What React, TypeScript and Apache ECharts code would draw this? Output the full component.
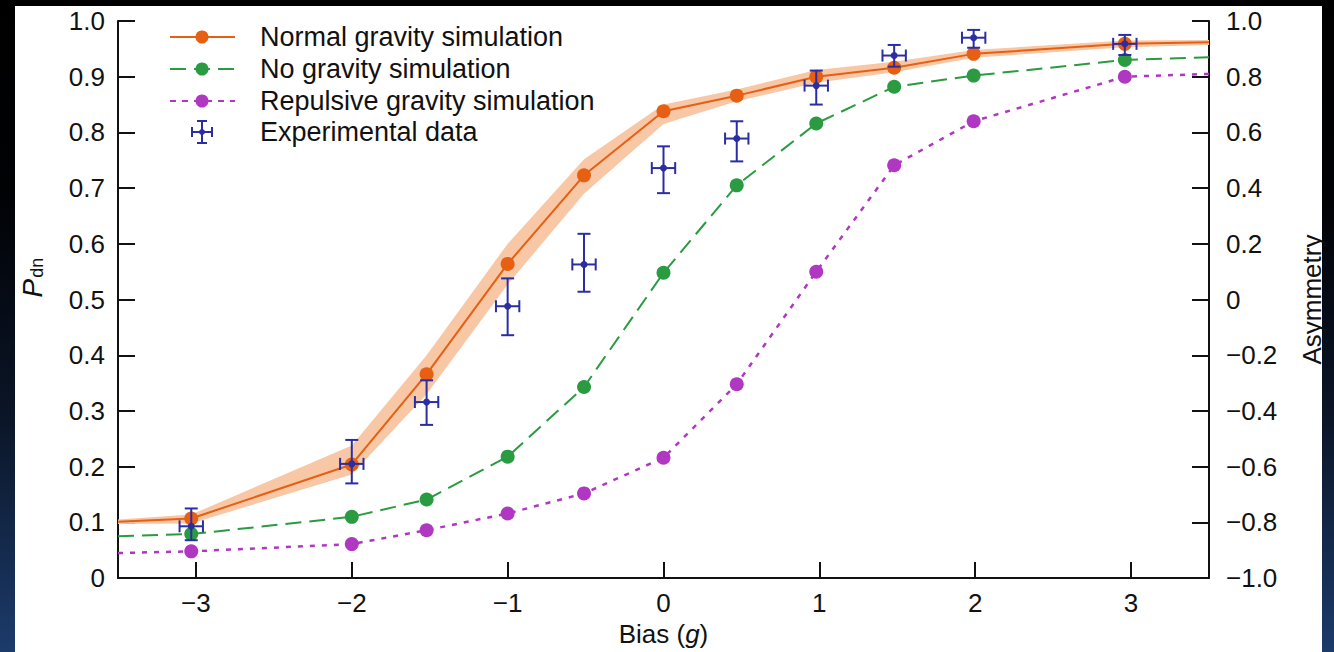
import React, { useEffect, useRef } from "react";
import * as echarts from "echarts";

// ---- data ----
const xRange = [-3.5, 3.5];
const xTicks = [-3, -2, -1, 0, 1, 2, 3];
const biasX = [-3.03, -2.0, -1.52, -1.0, -0.51, 0.0, 0.47, 0.98, 1.48, 1.99, 2.96];

const normalY = [0.107, 0.204, 0.366, 0.564, 0.723, 0.838, 0.866, 0.9, 0.916, 0.941, 0.959];
const normalEdgeY = [0.101, 0.962];
const normalUpper = [0.105, 0.114, 0.238, 0.4, 0.6, 0.752, 0.85, 0.877, 0.912, 0.927, 0.948, 0.965, 0.966];
const normalLower = [0.097, 0.098, 0.186, 0.33, 0.527, 0.69, 0.815, 0.856, 0.889, 0.908, 0.934, 0.953, 0.957];

const noGravityY = [0.079, 0.11, 0.141, 0.218, 0.343, 0.548, 0.705, 0.816, 0.882, 0.902, 0.93];
const noGravityEdgeY = [0.075, 0.935];

const repulsiveY = [0.048, 0.061, 0.086, 0.116, 0.152, 0.216, 0.348, 0.55, 0.741, 0.82, 0.9];
const repulsiveEdgeY = [0.045, 0.905];

const expY = [0.093, 0.205, 0.316, 0.488, 0.563, 0.736, 0.789, 0.884, 0.938, 0.97, 0.959];
const expLow = [0.068, 0.17, 0.275, 0.436, 0.514, 0.691, 0.748, 0.85, 0.918, 0.952, 0.939];
const expHigh = [0.125, 0.248, 0.355, 0.538, 0.618, 0.775, 0.82, 0.911, 0.957, 0.984, 0.975];
const expXErr = [0.075, 0.075, 0.075, 0.075, 0.075, 0.075, 0.075, 0.075, 0.075, 0.075, 0.075];

const seriesNames = [
  "Normal gravity simulation",
  "No gravity simulation",
  "Repulsive gravity simulation",
  "Experimental data",
];

// ---- styles ----
const ORANGE = "#e65f12";
const BAND = "#f7c7a6";
const GREEN = "#2a9b40";
const PURPLE = "#b037c2";
const BLUE = "#2b2ea3";
const INK = "#111111";
const FONT = "'Liberation Sans', Arial, Helvetica, sans-serif";
const FS = 26;

const withEdges = (ys: number[], edges: number[]) => [
  { value: [xRange[0], edges[0]], symbol: "none" },
  ...biasX.map((x, i) => [x, ys[i]]),
  { value: [xRange[1], edges[1]], symbol: "none" },
];

const bandX = [xRange[0], ...biasX, xRange[1]];

const leftFmt = (v: number) => (Math.abs(v) < 1e-9 ? "0" : v.toFixed(1));
const rightFmt = (v: number) =>
  Math.abs(v) < 1e-9 ? "0" : v < 0 ? "\u2212" + Math.abs(v).toFixed(1) : v.toFixed(1);
const xFmt = (v: number) => (v < 0 ? "\u2212" + Math.abs(v) : String(v));

const legendRows = [37, 69, 101, 132];

function buildLegend() {
  const children: any[] = [];
  const x0 = 170;
  const x1 = 235;
  const cx = 202;
  const tx = 260;
  const lineStyles = [
    { stroke: ORANGE, lineWidth: 2 },
    { stroke: GREEN, lineWidth: 2, lineDash: [16, 8] },
    { stroke: PURPLE, lineWidth: 2, lineDash: [6, 6] },
  ];
  const colors = [ORANGE, GREEN, PURPLE];
  for (let i = 0; i < 3; i++) {
    const y = legendRows[i];
    children.push({ type: "line", shape: { x1: x0, y1: y, x2: x1, y2: y }, style: lineStyles[i] });
    children.push({ type: "circle", shape: { cx, cy: y, r: 6.5 }, style: { fill: colors[i] } });
  }
  const y = legendRows[3];
  const st = { stroke: BLUE, lineWidth: 2 };
  children.push({ type: "line", shape: { x1: cx, y1: y - 11, x2: cx, y2: y + 11 }, style: st });
  children.push({ type: "line", shape: { x1: cx - 5, y1: y - 11, x2: cx + 5, y2: y - 11 }, style: st });
  children.push({ type: "line", shape: { x1: cx - 5, y1: y + 11, x2: cx + 5, y2: y + 11 }, style: st });
  children.push({ type: "line", shape: { x1: cx - 10, y1: y, x2: cx + 10, y2: y }, style: st });
  children.push({ type: "line", shape: { x1: cx - 10, y1: y - 5, x2: cx - 10, y2: y + 5 }, style: st });
  children.push({ type: "line", shape: { x1: cx + 10, y1: y - 5, x2: cx + 10, y2: y + 5 }, style: st });
  children.push({ type: "circle", shape: { cx, cy: y, r: 3 }, style: { fill: BLUE } });
  seriesNames.forEach((name, i) => {
    children.push({
      type: "text",
      x: tx,
      y: legendRows[i],
      style: { text: name, fontSize: 27, fontFamily: FONT, fill: INK, verticalAlign: "middle", align: "left" },
    });
  });
  return children;
}

export default function App() {
  const ref = useRef<HTMLDivElement>(null);
  useEffect(() => {
    const chart = echarts.init(ref.current!, null, { renderer: "svg" });
    const axisLineStyle = { color: INK, width: 2 };
    const option: any = {
      animation: false,
      backgroundColor: "transparent",
      grid: { left: 118, right: 125, top: 21, bottom: 71, containLabel: false },
      xAxis: {
        type: "value",
        min: xRange[0],
        max: xRange[1],
        name: "{n|Bias (}{i|g}{n|)}",
        nameLocation: "middle",
        nameGap: 42,
        nameTextStyle: {
          rich: {
            n: { fontSize: FS, fontFamily: FONT, color: INK },
            i: { fontSize: FS, fontFamily: FONT, color: INK, fontStyle: "italic" },
          },
        },
        axisLine: { show: true, onZero: false, lineStyle: axisLineStyle },
        axisTick: { show: true, inside: true, length: 16, lineStyle: axisLineStyle, customValues: xTicks },
        axisLabel: { fontSize: FS, fontFamily: FONT, color: INK, margin: 12, formatter: xFmt, customValues: xTicks },
        splitLine: { show: false },
      },
      yAxis: [
        {
          type: "value",
          position: "left",
          min: 0,
          max: 1,
          interval: 0.1,
          name: "{i|P}{s|dn}",
          nameLocation: "middle",
          nameGap: 72,
          nameTextStyle: {
            padding: [0, 0, 0, 44],
            rich: {
              i: { fontSize: 28, fontFamily: FONT, color: INK, fontStyle: "italic", lineHeight: 28, verticalAlign: "top" },
              s: { fontSize: 18, fontFamily: FONT, color: INK, lineHeight: 18, verticalAlign: "bottom", padding: [13, 0, 0, 1] },
            },
          },
          axisLine: { show: true, onZero: false, lineStyle: axisLineStyle },
          axisTick: { show: true, inside: true, length: 17, lineStyle: axisLineStyle },
          axisLabel: { fontSize: FS, fontFamily: FONT, color: INK, margin: 13, formatter: leftFmt },
          splitLine: { show: false },
        },
        {
          type: "value",
          position: "right",
          min: -1,
          max: 1,
          interval: 0.2,
          name: "Asymmetry",
          nameLocation: "middle",
          nameGap: 90,
          nameTextStyle: { fontSize: FS, fontFamily: FONT, color: INK },
          axisLine: { show: true, onZero: false, lineStyle: axisLineStyle },
          axisTick: { show: true, inside: true, length: 17, lineStyle: axisLineStyle },
          axisLabel: { fontSize: FS, fontFamily: FONT, color: INK, margin: 17, formatter: rightFmt },
          splitLine: { show: false },
        },
      ],
      graphic: buildLegend(),
      series: [
        {
          type: "custom",
          name: "Normal gravity band",
          z: 1,
          silent: true,
          data: bandX.map((x, i) => [x, normalLower[i], normalUpper[i]]),
          encode: { x: 0, y: [1, 2] },
          renderItem: (params: any, api: any) => {
            if (params.dataIndex !== 0) return null;
            const up = bandX.map((x, i) => api.coord([x, normalUpper[i]]));
            const lo = bandX.map((x, i) => api.coord([x, normalLower[i]])).reverse();
            return { type: "polygon", shape: { points: up.concat(lo) }, style: { fill: BAND } };
          },
        },
        {
          type: "line",
          name: seriesNames[0],
          z: 3,
          data: withEdges(normalY, normalEdgeY),
          symbol: "circle",
          symbolSize: 14,
          showAllSymbol: true,
          itemStyle: { color: ORANGE },
          lineStyle: { color: ORANGE, width: 2 },
        },
        {
          type: "line",
          name: seriesNames[1],
          z: 3,
          data: withEdges(noGravityY, noGravityEdgeY),
          symbol: "circle",
          symbolSize: 14,
          showAllSymbol: true,
          itemStyle: { color: GREEN },
          lineStyle: { color: GREEN, width: 2, type: [16, 8] },
        },
        {
          type: "line",
          name: seriesNames[2],
          z: 3,
          data: withEdges(repulsiveY, repulsiveEdgeY),
          symbol: "circle",
          symbolSize: 14,
          showAllSymbol: true,
          itemStyle: { color: PURPLE },
          lineStyle: { color: PURPLE, width: 2.5, type: [5, 7] },
        },
        {
          type: "custom",
          name: seriesNames[3],
          z: 5,
          data: biasX.map((x, i) => [x, expY[i], expLow[i], expHigh[i], expXErr[i]]),
          encode: { x: 0, y: [1, 2, 3] },
          renderItem: (params: any, api: any) => {
            const x = api.value(0);
            const y = api.value(1);
            const lo = api.value(2);
            const hi = api.value(3);
            const xe = api.value(4);
            const c = api.coord([x, y]);
            const top = api.coord([x, hi]);
            const bot = api.coord([x, lo]);
            const l = api.coord([x - xe, y]);
            const r = api.coord([x + xe, y]);
            const cap = 6.5;
            const st = { stroke: BLUE, lineWidth: 2, fill: null };
            return {
              type: "group",
              children: [
                { type: "line", shape: { x1: c[0], y1: top[1], x2: c[0], y2: bot[1] }, style: st },
                { type: "line", shape: { x1: c[0] - cap, y1: top[1], x2: c[0] + cap, y2: top[1] }, style: st },
                { type: "line", shape: { x1: c[0] - cap, y1: bot[1], x2: c[0] + cap, y2: bot[1] }, style: st },
                { type: "line", shape: { x1: l[0], y1: c[1], x2: r[0], y2: c[1] }, style: st },
                { type: "line", shape: { x1: l[0], y1: c[1] - 6, x2: l[0], y2: c[1] + 6 }, style: st },
                { type: "line", shape: { x1: r[0], y1: c[1] - 6, x2: r[0], y2: c[1] + 6 }, style: st },
                { type: "circle", shape: { cx: c[0], cy: c[1], r: 3.5 }, style: { fill: BLUE } },
              ],
            };
          },
        },
      ],
    };
    chart.setOption(option);
    return () => chart.dispose();
  }, []);

  return (
    <div
      style={{
        position: "fixed",
        left: 0,
        top: 0,
        width: 1334,
        height: 652,
        background: "linear-gradient(to bottom, #000000 0%, #010205 30%, #0b1629 65%, #1c3b6b 100%)",
      }}
    >
      <div style={{ position: "absolute", left: 15, top: 6, width: 1307, height: 646, background: "#ffffff" }} />
      <div ref={ref} style={{ position: "absolute", left: 0, top: 0, width: 1334, height: 652 }} />
    </div>
  );
}
